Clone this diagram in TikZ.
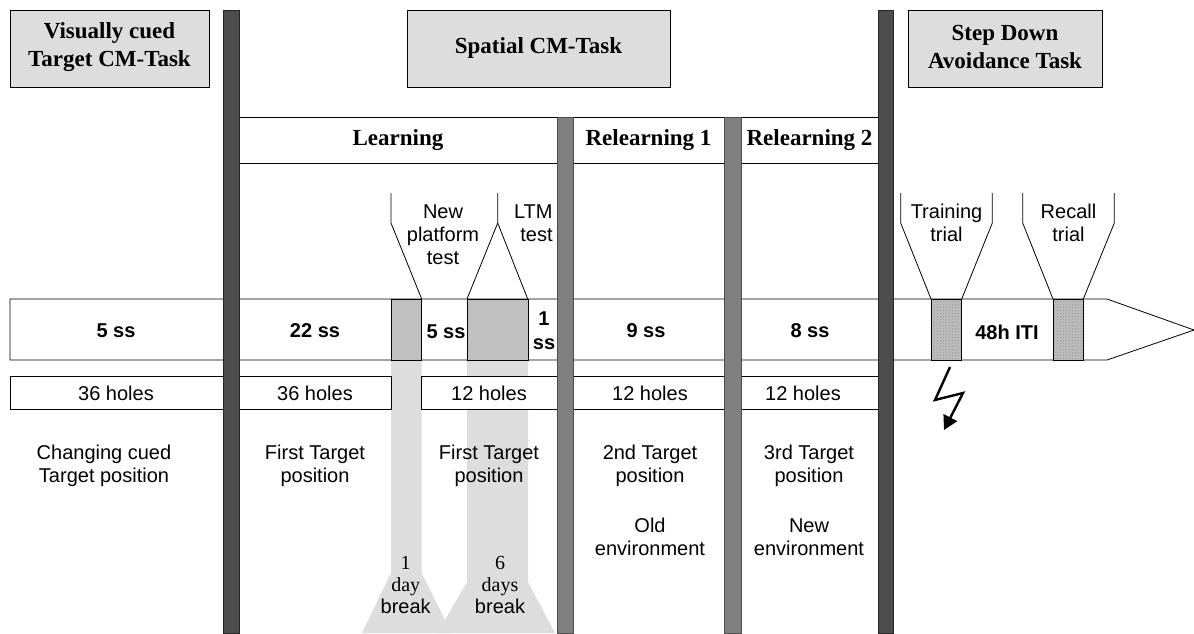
\documentclass[tikz,border=0pt]{standalone}
\usepackage{fontspec}
\setmainfont{Liberation Sans}
\newfontfamily\serifF{Liberation Serif}
\usetikzlibrary{patterns,arrows.meta}
\definecolor{lightband}{HTML}{DDDDDD}
\definecolor{boxgray}{HTML}{DDDDDD}
\definecolor{blockgray}{HTML}{C0C0C0}
\definecolor{darkbar}{HTML}{4D4D4D}
\definecolor{midbar}{HTML}{808080}
\begin{document}
\begin{tikzpicture}[x=1pt,y=-1pt,line width=0.8pt,
  hdr/.style={font=\serifF\bfseries\fontsize{23}{28}\selectfont,align=center,inner sep=0},
  taskbox/.style={draw=black,fill=boxgray,line width=1pt},
  rowbox/.style={draw=black,fill=white,line width=0.8pt},
  sstext/.style={font=\bfseries\fontsize{20}{24}\selectfont,align=center,inner sep=0},
  lbl/.style={font=\fontsize{20}{23}\selectfont,align=center,inner sep=0},
  brk/.style={font=\fontsize{20}{23}\selectfont,align=center,inner sep=0},
  darkbarstyle/.style={fill=darkbar,draw=black!85,line width=0.6pt},
  midbarstyle/.style={fill=midbar,draw=black!70,line width=0.6pt},
  callout/.style={draw=black,line width=0.8pt},
  block/.style={fill=blockgray,draw=black,line width=0.8pt}
]
\useasboundingbox (0,0) rectangle (1194,633);
% light bands (breaks)
\fill[lightband] (391,360) -- (421.7,360) -- (421.7,573) -- (451.5,633) -- (362,633) -- (391,573) -- cycle;
\fill[lightband] (467,360) -- (528,360) -- (528,582) -- (555,633) -- (437.5,633) -- (467,582) -- cycle;
% task boxes
\draw[taskbox] (10,10) rectangle (209,87);
\node[hdr] (t1) at (109.5,47) {Visually cued\\Target CM-Task};
\draw[taskbox] (407,10) rectangle (670,87);
\node[hdr] (t2) at (538.5,48) {Spatial CM-Task};
\draw[taskbox] (908,10) rectangle (1102,87);
\node[hdr] (t3) at (1005,47) {Step Down\\Avoidance Task};
% header row
\draw[rowbox] (239,117) rectangle (557,163);
\node[hdr] (h1) at (398,140) {Learning};
\draw[rowbox] (573,117) rectangle (724,163);
\node[hdr] (h2) at (648.5,140) {Relearning 1};
\draw[rowbox] (741,117) rectangle (878,163);
\node[hdr] (h3) at (809.5,140) {Relearning 2};
% timeline arrow
\draw[rowbox] (10,299) -- (1107,299) -- (1194,330) -- (1107,360) -- (10,360) -- cycle;
\draw (223,299) -- (223,360);
\draw[block] (391,299) rectangle (421.7,360);
\draw[block] (467,299) rectangle (528,360);
\fill[blockgray] (931,299) rectangle (961.7,360);
\fill[pattern=crosshatch dots,pattern color=black!45] (931,299) rectangle (961.7,360);
\draw (931,299) rectangle (961.7,360);
\fill[blockgray] (1053,299) rectangle (1083.3,360);
\fill[pattern=crosshatch dots,pattern color=black!45] (1053,299) rectangle (1083.3,360);
\draw (1053,299) rectangle (1083.3,360);
\node[sstext] (s1) at (116,331) {5 ss};
\node[sstext] (s2) at (315,331) {22 ss};
\node[sstext] (s3) at (446,332) {5 ss};
\node[sstext] (s4) at (544,331) {1\\ss};
\node[sstext] (s5) at (646,331) {9 ss};
\node[sstext] (s6) at (810,331) {8 ss};
\node[sstext] (s7) at (1007,332) {48h ITI};
% holes row
\draw[rowbox] (10,376) rectangle (223,409);
\draw[rowbox] (239,376) rectangle (391,409);
\draw[rowbox] (421.7,376) rectangle (557,409);
\draw[rowbox] (573,376) rectangle (724,409);
\draw[rowbox] (741,376) rectangle (878,409);
\node[lbl] (o1) at (116,393) {36 holes};
\node[lbl] (o2) at (315,393) {36 holes};
\node[lbl] (o3) at (489,393) {12 holes};
\node[lbl] (o4) at (650,393) {12 holes};
\node[lbl] (o5) at (803,393) {12 holes};
% descriptions
\node[lbl] (d1) at (104,466) {Changing cued\\Target position};
\node[lbl] (d2) at (315,466) {First Target\\position};
\node[lbl] (d3) at (489,466) {First Target\\position};
\node[lbl] (d4) at (650,466) {2nd Target\\position};
\node[lbl] (d4b) at (650,537) {Old\\environment};
\node[lbl] (d5) at (809,466) {3rd Target\\position};
\node[lbl] (d5b) at (809,537) {New\\environment};
% breaks
\node[brk] (b1) at (405.7,585) {{\serifF 1}\\[-1pt]{\serifF day}\\[-1pt]break};
\node[brk] (b2) at (500,585) {{\serifF 6}\\[-1pt]{\serifF days}\\[-1pt]break};
% bars
\draw[darkbarstyle] (223,10) rectangle (239,633);
\draw[darkbarstyle] (878,10) rectangle (893,633);
\draw[midbarstyle] (557,117) rectangle (573,633);
\draw[midbarstyle] (724,117) rectangle (741,633);
% callouts
\coordinate (na) at (391,193);
\coordinate (nb) at (391,223);
\coordinate (nc) at (421.7,299);
\coordinate (ma) at (497.7,193);
\coordinate (mb) at (497.7,223);
\coordinate (mc) at (467,299);
\coordinate (lc) at (527.7,299);
\draw[callout] (na) -- (nb) -- (nc);
\draw[callout] (ma) -- (mb) -- (mc);
\draw[callout] (mb) -- (lc);
\node[lbl,align=center] (np) at (443,235) {New\\platform\\test};
\node[lbl,align=right,anchor=east] (ltm) at (553,223.5) {LTM\\test};
\coordinate (ta) at (900.7,193);
\coordinate (tb) at (900.7,223);
\coordinate (tc) at (931,299);
\coordinate (td) at (992.3,193);
\coordinate (te) at (992.3,223);
\coordinate (tf) at (961.7,299);
\draw[callout] (ta) -- (tb) -- (tc);
\draw[callout] (td) -- (te) -- (tf);
\coordinate (ra) at (1022.7,193);
\coordinate (rb) at (1022.7,223);
\coordinate (rc) at (1053,299);
\coordinate (rd) at (1114.3,193);
\coordinate (re) at (1114.3,223);
\coordinate (rf) at (1083.3,299);
\draw[callout] (ra) -- (rb) -- (rc);
\draw[callout] (rd) -- (re) -- (rf);
\node[lbl] (tt) at (946.5,222.5) {Training\\trial};
\node[lbl] (rt) at (1068.5,222.5) {Recall\\trial};
% lightning bolt
\coordinate (z1) at (950,367);
\coordinate (z2) at (935,400);
\coordinate (z3) at (963,393);
\coordinate (z4) at (944,430);
\draw[line width=2.4pt,-{Triangle[width=15pt,length=14pt]}] (z1) -- (z2) -- (z3) -- (z4);
\end{tikzpicture}
\end{document}
